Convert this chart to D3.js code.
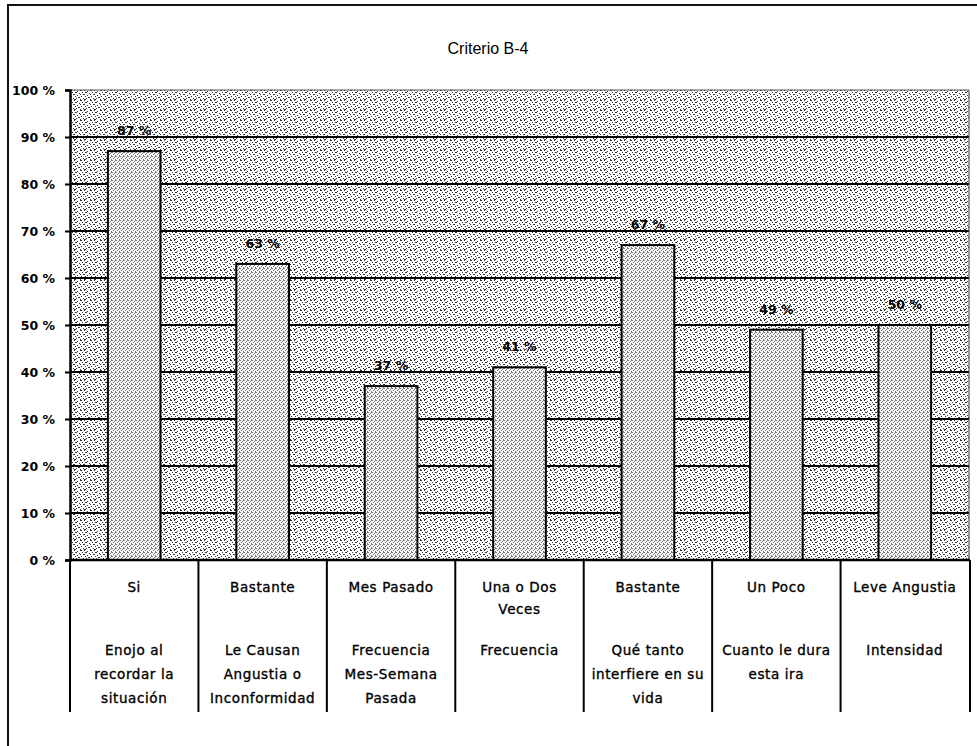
<!DOCTYPE html>
<html>
<head>
<meta charset="utf-8">
<script src="https://cdn.jsdelivr.net/npm/d3@7"></script>
<style>
  html, body { margin: 0; padding: 0; background: #fff; }
  svg { display: block; }
</style>
</head>
<body>
<svg id="chart" width="977" height="746"></svg>
<script>
// ---- data ----
const title = "Criterio B-4";
const categories = ["c1", "c2", "c3", "c4", "c5", "c6", "c7"];
const values = [0.87, 0.63, 0.37, 0.41, 0.67, 0.49, 0.50];
const valueLabels = ["87 %", "63 %", "37 %", "41 %", "67 %", "49 %", "50 %"];
const answerLines = [
  ["Si"],
  ["Bastante"],
  ["Mes Pasado"],
  ["Una o Dos", "Veces"],
  ["Bastante"],
  ["Un Poco"],
  ["Leve Angustia"]
];
const questionLines = [
  ["Enojo al", "recordar la", "situación"],
  ["Le Causan", "Angustia o", "Inconformidad"],
  ["Frecuencia", "Mes-Semana", "Pasada"],
  ["Frecuencia"],
  ["Qué tanto", "interfiere en su", "vida"],
  ["Cuanto le dura", "esta ira"],
  ["Intensidad"]
];
const yTicks = [0, 0.1, 0.2, 0.3, 0.4, 0.5, 0.6, 0.7, 0.8, 0.9, 1.0];
const yTickLabels = ["0 %", "10 %", "20 %", "30 %", "40 %", "50 %", "60 %", "70 %", "80 %", "90 %", "100 %"];

// ---- layout ----
const svg = d3.select("#chart");
const plotLeft = 70, plotRight = 969, plotTop = 90, plotBottom = 560;
const tableBottom = 712;
const font = "'DejaVu Sans', 'Liberation Sans', sans-serif";

const x = d3.scaleBand().domain(categories).range([plotLeft, plotRight]).padding(0);
const y = d3.scaleLinear().domain([0, 1]).range([plotBottom, plotTop]);
const barW = x.bandwidth() * 0.41;

// patterns (stipple textures)
const defs = svg.append("defs");
const bgPat = defs.append("pattern").attr("id", "bgPat")
  .attr("patternUnits", "userSpaceOnUse").attr("width", 10).attr("height", 10);
bgPat.append("rect").attr("width", 10).attr("height", 10).attr("fill", "#fff");
[[0,0,2],[4,0,1],[7,1,1],[2,2,1],[5,2,2],[9,3,1],[0,4,1],[3,4,2],[7,5,1],
 [1,6,1],[5,6,1],[8,7,2],[3,8,1],[6,8,1],[0,9,1],[4,9,2]].forEach(([a,b,w]) =>
  bgPat.append("rect").attr("x", a).attr("y", b).attr("width", w).attr("height", 1).attr("fill", "#333"));
const barPat = defs.append("pattern").attr("id", "barPat")
  .attr("patternUnits", "userSpaceOnUse").attr("width", 4).attr("height", 4);
barPat.append("rect").attr("width", 4).attr("height", 4).attr("fill", "#fafafa");
[[0,0],[2,1],[1,2],[3,3],[3,0]].forEach(([a,b]) =>
  barPat.append("rect").attr("x", a).attr("y", b).attr("width", 1).attr("height", 1).attr("fill", "#777"));

// outer border (left + top)
svg.append("path")
  .attr("d", `M8,746 L8,5 L977,5`)
  .attr("fill", "none").attr("stroke", "#111").attr("stroke-width", 2);

// title
svg.append("text")
  .attr("x", 488).attr("y", 54)
  .attr("text-anchor", "middle")
  .attr("font-family", "'Liberation Sans', Arial, sans-serif")
  .attr("font-size", 16)
  .attr("fill", "#000")
  .text(title);

// plot background
svg.append("rect")
  .attr("x", plotLeft).attr("y", plotTop)
  .attr("width", plotRight - plotLeft).attr("height", plotBottom - plotTop)
  .attr("fill", "url(#bgPat)");

// gridlines
svg.append("g").selectAll("line")
  .data(yTicks.filter(d => d > 0))
  .join("line")
  .attr("x1", plotLeft).attr("x2", plotRight)
  .attr("y1", d => y(d)).attr("y2", d => y(d))
  .attr("stroke", d => d === 1 ? "#555" : "#000")
  .attr("stroke-width", d => d === 1 ? 1 : 2);

// right border of plot
svg.append("line")
  .attr("x1", plotRight).attr("x2", plotRight)
  .attr("y1", plotTop).attr("y2", plotBottom)
  .attr("stroke", "#333").attr("stroke-width", 1);

// bars
svg.append("g").selectAll("rect")
  .data(values)
  .join("rect")
  .attr("x", (d, i) => x(categories[i]) + (x.bandwidth() - barW) / 2)
  .attr("y", d => y(d))
  .attr("width", barW)
  .attr("height", d => y(0) - y(d))
  .attr("fill", "url(#barPat)")
  .attr("stroke", "#000")
  .attr("stroke-width", 2);

// value labels
svg.append("g").selectAll("text")
  .data(values)
  .join("text")
  .attr("x", (d, i) => x(categories[i]) + x.bandwidth() / 2)
  .attr("y", d => y(d) - 16)
  .attr("text-anchor", "middle")
  .attr("font-family", font)
  .attr("font-size", 12.5)
  .attr("font-weight", "bold")
  .attr("fill", "#000")
  .text((d, i) => valueLabels[i]);

// y axis
const yAxis = d3.axisLeft(y)
  .tickValues(yTicks)
  .tickSize(5)
  .tickPadding(14)
  .tickFormat((d, i) => yTickLabels[i]);
const gy = svg.append("g")
  .attr("transform", `translate(${plotLeft},0)`)
  .call(yAxis);
gy.select(".domain").attr("stroke", "#000").attr("stroke-width", 2.5);
gy.selectAll(".tick line").attr("stroke", "#000").attr("stroke-width", 2);
gy.selectAll(".tick text")
  .attr("font-family", font)
  .attr("font-size", 12.5)
  .attr("font-weight", "bold")
  .attr("fill", "#000")
  .attr("x", -15);

// x axis baseline
svg.append("line")
  .attr("x1", plotLeft).attr("x2", plotRight + 1)
  .attr("y1", plotBottom).attr("y2", plotBottom)
  .attr("stroke", "#000").attr("stroke-width", 2.5);

// table vertical lines
const bounds = categories.map(c => x(c)).concat([plotRight + 1]);
svg.append("g").selectAll("line")
  .data(bounds)
  .join("line")
  .attr("x1", d => d).attr("x2", d => d)
  .attr("y1", plotBottom).attr("y2", tableBottom)
  .attr("stroke", "#000").attr("stroke-width", 2);

// table texts
const cells = svg.append("g")
  .attr("font-family", font)
  .attr("font-size", 13.5)
  .attr("letter-spacing", 0.6)
  .attr("fill", "#000")
  .attr("stroke", "#000")
  .attr("stroke-width", 0.35)
  .attr("text-anchor", "middle");

categories.forEach((c, i) => {
  const cx = x(c) + x.bandwidth() / 2;
  answerLines[i].forEach((line, j) => {
    cells.append("text")
      .attr("x", cx).attr("y", 592 + j * 22)
      .text(line);
  });
  questionLines[i].forEach((line, j) => {
    cells.append("text")
      .attr("x", cx).attr("y", 655 + j * 24)
      .text(line);
  });
});
</script>
</body>
</html>
